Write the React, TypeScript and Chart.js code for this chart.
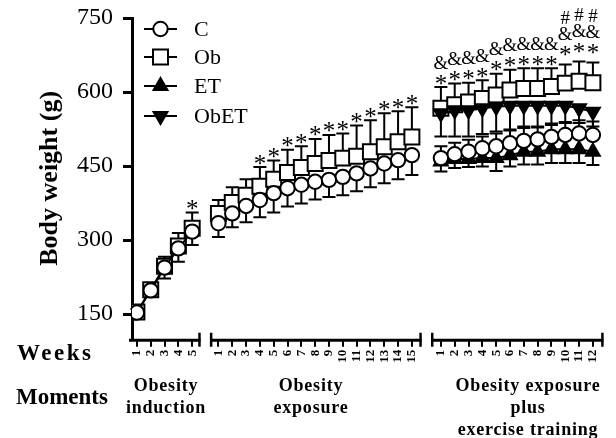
import React, { useEffect, useRef } from "react";
import { Chart, registerables } from "chart.js";

Chart.register(...registerables);

const FONT = '"Liberation Serif", "Times New Roman", serif';

// ---- categories / tick labels ----
const weeksInduction = [1, 2, 3, 4, 5];
const weeksExposure = [1, 2, 3, 4, 5, 6, 7, 8, 9, 10, 11, 12, 13, 14, 15];
const weeksTraining = [1, 2, 3, 4, 5, 6, 7, 8, 9, 10, 11, 12];
const yTicks = [150, 300, 450, 600, 750];
const seriesNames = ["C", "Ob", "ET", "ObET"];
const momentLabels = [
  ["Obesity", "induction"],
  ["Obesity", "exposure"],
  ["Obesity exposure", "plus", "exercise training"],
];

// ---- Obesity induction ----
const cInduction = [153, 198, 244, 283, 317];
const cInductionSD = [6, 8, 22, 27, 27];
const obInduction = [154, 199, 247, 288, 324];
const obInductionSD = [6, 8, 19, 26, 32];

// ---- Obesity exposure ----
const cExposure = [334, 354, 369, 381, 395, 405, 412, 418, 422, 428, 435, 445, 455, 462, 472];
const cExposureSD = [28, 28, 33, 35, 39, 37, 38, 36, 35, 37, 36, 38, 40, 39, 40];
const obExposure = [354, 376, 391, 409, 423, 437, 447, 455, 461, 466, 470, 479, 489, 499, 509];
const obExposureSD = [27, 31, 32, 39, 38, 46, 43, 50, 52, 50, 62, 64, 68, 62, 60];

// ---- Obesity exposure plus exercise training ----
const cTraining = [466, 474, 479, 486, 490, 496, 501, 504, 509, 513, 516, 513];
const cTrainingSD = [24, 23, 24, 24, 26, 26, 26, 24, 24, 26, 27, 27];
const obTraining = [567, 574, 580, 587, 594, 604, 607, 607, 611, 618, 622, 619];
const obTrainingSD = [43, 43, 39, 37, 43, 41, 41, 41, 37, 38, 40, 41];
const etTraining = [459, 464, 464, 466, 466, 472, 479, 479, 484, 484, 484, 479];
const etTrainingSD = [20, 18, 16, 17, 26, 23, 26, 26, 28, 28, 28, 27];
const obetTraining = [557, 563, 563, 567, 570, 572, 572, 572, 572, 572, 567, 560];
const obetTrainingSD = [47, 53, 53, 52, 50, 48, 42, 42, 36, 35, 30, 30];

// ---- significance marks ----
const starInduction = [0, 0, 0, 0, 1];
const starExposure = [0, 0, 0, 1, 1, 1, 1, 1, 1, 1, 1, 1, 1, 1, 1];
const starTraining = [1, 1, 1, 1, 1, 1, 1, 1, 1, 1, 1, 1];
const ampTraining = [1, 1, 1, 1, 1, 1, 1, 1, 1, 1, 1, 1];
const hashTraining = [0, 0, 0, 0, 0, 0, 0, 0, 0, 1, 1, 1];

// ---- layout of the broken x axis (in axis units) ----
const X_MIN = 0.645;
const X_MAX = 34.76;
const OFF = [0, 5.9, 22];
const SPANS = [
  [X_MIN, 5.6],
  [6.3, 21.6],
  [22.3, X_MAX],
];

const mk = (w: number[], v: number[], off: number) => w.map((wk, i) => ({ x: wk + off, y: v[i] }));
const gap = (x: number) => ({ x, y: null as any });

const tickValues = [
  ...weeksInduction.map((w) => w + OFF[0]),
  ...weeksExposure.map((w) => w + OFF[1]),
  ...weeksTraining.map((w) => w + OFF[2]),
];
const tickLabels = [...weeksInduction, ...weeksExposure, ...weeksTraining].map(String);

const errorBars = [
  { weeks: weeksInduction, off: OFF[0], vals: cInduction, sd: cInductionSD, dir: -1 },
  { weeks: weeksInduction, off: OFF[0], vals: obInduction, sd: obInductionSD, dir: 1 },
  { weeks: weeksExposure, off: OFF[1], vals: cExposure, sd: cExposureSD, dir: -1 },
  { weeks: weeksExposure, off: OFF[1], vals: obExposure, sd: obExposureSD, dir: 1 },
  { weeks: weeksTraining, off: OFF[2], vals: cTraining, sd: cTrainingSD, dir: 1 },
  { weeks: weeksTraining, off: OFF[2], vals: obTraining, sd: obTrainingSD, dir: 1 },
  { weeks: weeksTraining, off: OFF[2], vals: etTraining, sd: etTrainingSD, dir: -1 },
  { weeks: weeksTraining, off: OFF[2], vals: obetTraining, sd: obetTrainingSD, dir: -1 },
];

const sigGroups = [
  { weeks: weeksInduction, off: OFF[0], vals: obInduction, sd: obInductionSD, star: starInduction, amp: null as any, hash: null as any },
  { weeks: weeksExposure, off: OFF[1], vals: obExposure, sd: obExposureSD, star: starExposure, amp: null as any, hash: null as any },
  { weeks: weeksTraining, off: OFF[2], vals: obTraining, sd: obTrainingSD, star: starTraining, amp: ampTraining, hash: hashTraining },
];

function drawMarker(ctx: CanvasRenderingContext2D, style: string, x: number, y: number) {
  ctx.beginPath();
  if (style === "circle") {
    ctx.arc(x, y, 7.2, 0, Math.PI * 2);
    ctx.fillStyle = "#fff";
  } else if (style === "rect") {
    ctx.rect(x - 7.5, y - 7.5, 15, 15);
    ctx.fillStyle = "#fff";
  } else {
    const r = 8;
    const s = style === "down" ? -1 : 1;
    ctx.moveTo(x, y - s * r);
    ctx.lineTo(x - r * 0.866, y + s * r * 0.5);
    ctx.lineTo(x + r * 0.866, y + s * r * 0.5);
    ctx.closePath();
    ctx.fillStyle = "#000";
  }
  ctx.fill();
  ctx.stroke();
}

const decor = {
  id: "decor",
  beforeDatasetsDraw(chart: any) {
    const { ctx } = chart;
    const x = chart.scales.x;
    const y = chart.scales.y;
    ctx.save();
    ctx.strokeStyle = "#000";
    ctx.lineWidth = 2;
    for (const eb of errorBars) {
      eb.weeks.forEach((w, i) => {
        const px = x.getPixelForValue(w + eb.off);
        const y0 = y.getPixelForValue(eb.vals[i]);
        const y1 = y.getPixelForValue(eb.vals[i] + eb.dir * eb.sd[i]);
        ctx.beginPath();
        ctx.moveTo(px, y0);
        ctx.lineTo(px, y1);
        ctx.moveTo(px - 6.5, y1);
        ctx.lineTo(px + 6.5, y1);
        ctx.stroke();
      });
    }
    ctx.restore();
  },
  afterDatasetsDraw(chart: any) {
    const { ctx } = chart;
    const x = chart.scales.x;
    const y = chart.scales.y;
    ctx.save();
    ctx.fillStyle = "#000";
    ctx.textAlign = "center";
    ctx.textBaseline = "alphabetic";
    const glyph = (t: string, px: number, cy: number, size: number, em: number) => {
      ctx.font = `${size}px ${FONT}`;
      ctx.fillText(t, px, cy + em * size);
    };
    for (const g of sigGroups) {
      g.weeks.forEach((w, i) => {
        const px = x.getPixelForValue(w + g.off);
        const cap = y.getPixelForValue(g.vals[i] + g.sd[i]);
        const lift = g.hash && g.hash[i] ? 6 : 0;
        let cy = cap - 8 - lift;
        if (g.star[i]) glyph("*", px, cy, 25, 0.5);
        cy -= 17;
        if (g.amp && g.amp[i]) glyph("&", px, cy, 19, 0.34);
        cy -= 16;
        if (g.hash && g.hash[i]) glyph("#", px, cy, 19, 0.34);
      });
    }
    // legend
    const styles = ["circle", "rect", "up", "down"];
    const rows = [29, 57, 86, 116];
    ctx.strokeStyle = "#000";
    seriesNames.forEach((name, i) => {
      const ry = rows[i];
      ctx.lineWidth = 2;
      ctx.beginPath();
      ctx.moveTo(144, ry);
      ctx.lineTo(177, ry);
      ctx.stroke();
      drawMarker(ctx, styles[i], 160.5, ry);
      ctx.fillStyle = "#000";
      ctx.font = `22px ${FONT}`;
      ctx.textAlign = "left";
      ctx.textBaseline = "middle";
      ctx.fillText(name, 194, ry + 1);
    });
    ctx.restore();
  },
  afterDraw(chart: any) {
    const { ctx, chartArea } = chart;
    const x = chart.scales.x;
    const base = chartArea.bottom;
    ctx.save();
    ctx.strokeStyle = "#000";
    SPANS.forEach(([a, b], i) => {
      const xa = i === 0 ? chartArea.left - 3 : x.getPixelForValue(a);
      const xb = x.getPixelForValue(b);
      ctx.lineWidth = 3;
      ctx.beginPath();
      ctx.moveTo(xa, base + 1.5);
      ctx.lineTo(xb, base + 1.5);
      ctx.stroke();
      ctx.lineWidth = 2.5;
      ctx.beginPath();
      if (i !== 0) {
        ctx.moveTo(xa + 1, base - 6);
        ctx.lineTo(xa + 1, base + 8);
      }
      ctx.moveTo(xb - 1, base - 6);
      ctx.lineTo(xb - 1, base + 8);
      ctx.stroke();
    });
    // row titles
    ctx.fillStyle = "#000";
    ctx.textBaseline = "middle";
    ctx.textAlign = "left";
    ctx.font = `bold 23px ${FONT}`;
    (ctx as any).letterSpacing = "2.5px";
    ctx.fillText("Weeks", 17, 354);
    (ctx as any).letterSpacing = "0px";
    ctx.fillText("Moments", 16, 398);
    // moment captions
    const centers = [166, 311, 528];
    ctx.textAlign = "center";
    ctx.font = `bold 18px ${FONT}`;
    (ctx as any).letterSpacing = "0.8px";
    momentLabels.forEach((lines, i) => {
      lines.forEach((t, j) => {
        ctx.fillText(t, centers[i], 386 + j * 22);
      });
    });
    (ctx as any).letterSpacing = "0px";
    ctx.restore();
  },
};

const baseLine = { borderColor: "#000", borderWidth: 2, pointBorderColor: "#000", pointBorderWidth: 2, spanGaps: false };

export default function App() {
  const ref = useRef<HTMLCanvasElement>(null);
  useEffect(() => {
    document.body.style.margin = "0";
    const chart = new Chart(ref.current as HTMLCanvasElement, {
      type: "line",
      data: {
        datasets: [
          {
            ...baseLine,
            label: "C",
            data: [...mk(weeksInduction, cInduction, OFF[0]), gap(5.95), ...mk(weeksExposure, cExposure, OFF[1]), gap(21.95), ...mk(weeksTraining, cTraining, OFF[2])],
            pointStyle: "circle",
            pointRadius: 7.2,
            pointBackgroundColor: "#fff",
            order: 0,
          },
          {
            ...baseLine,
            label: "Ob",
            data: [...mk(weeksInduction, obInduction, OFF[0]), gap(5.95), ...mk(weeksExposure, obExposure, OFF[1]), gap(21.95), ...mk(weeksTraining, obTraining, OFF[2])],
            pointStyle: "rect",
            pointRadius: 10.6,
            pointBackgroundColor: "#fff",
            order: 3,
          },
          {
            ...baseLine,
            label: "ET",
            data: mk(weeksTraining, etTraining, OFF[2]),
            pointStyle: "triangle",
            pointRadius: 8,
            pointBackgroundColor: "#000",
            order: 1,
          },
          {
            ...baseLine,
            label: "ObET",
            data: mk(weeksTraining, obetTraining, OFF[2]),
            pointStyle: "triangle",
            pointRotation: 180,
            pointRadius: 8,
            pointBackgroundColor: "#000",
            order: 2,
          },
        ] as any,
      },
      options: {
        responsive: false,
        animation: false,
        devicePixelRatio: 1,
        layout: { padding: { top: 18, right: 3, left: 0, bottom: 0 } },
        plugins: { legend: { display: false }, tooltip: { enabled: false } },
        scales: {
          x: {
            type: "linear",
            min: X_MIN,
            max: X_MAX,
            afterBuildTicks: (s: any) => {
              s.ticks = tickValues.map((v) => ({ value: v }));
            },
            afterFit: (s: any) => {
              s.height = 99.3;
              s.paddingLeft = 0;
              s.paddingRight = 0;
            },
            border: { display: false },
            grid: { drawOnChartArea: false, drawTicks: true, tickLength: 8, lineWidth: 2, color: "#000" },
            ticks: {
              autoSkip: false,
              minRotation: 90,
              maxRotation: 90,
              padding: 3,
              color: "#000",
              font: { family: FONT, size: 13, weight: "bold" },
              callback: (_v: any, i: number) => tickLabels[i],
            },
          },
          y: {
            min: 100,
            max: 750,
            afterBuildTicks: (s: any) => {
              s.ticks = yTicks.map((v) => ({ value: v }));
            },
            afterFit: (s: any) => {
              s.width = 132;
              s.paddingTop = 0;
              s.paddingBottom = 0;
            },
            border: { display: true, width: 3, color: "#000" },
            grid: { drawOnChartArea: false, drawTicks: true, tickLength: 9, lineWidth: 3, color: "#000" },
            ticks: { color: "#000", padding: 10, font: { family: FONT, size: 24 } },
            title: {
              display: true,
              text: "Body weight (g)",
              color: "#000",
              font: { family: FONT, size: 26, weight: "bold" },
              padding: { top: 35, bottom: 0 },
            },
          },
        },
      } as any,
      plugins: [decor],
    });
    return () => chart.destroy();
  }, []);
  return <canvas ref={ref} width={616} height={438} style={{ display: "block" }} />;
}
